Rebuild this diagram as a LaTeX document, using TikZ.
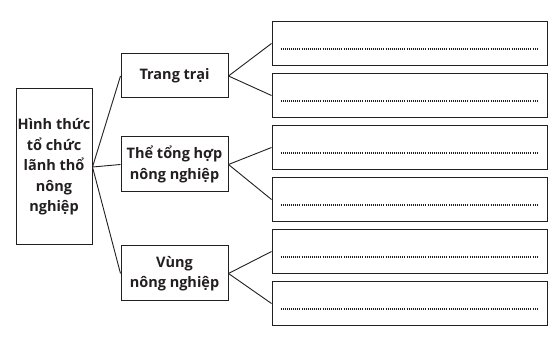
\documentclass[tikz,border=0pt]{standalone}
\usepackage{fontspec}
\setmainfont{Open Sans}
\usetikzlibrary{positioning}
\definecolor{ink}{RGB}{35,31,32}
\tikzset{
  box/.style={draw=ink,line width=1pt,fill=white,align=center,inner sep=1pt,
    font=\fontsize{14.5}{20.5}\selectfont\bfseries,text=ink},
  rootbox/.style={box,minimum width=76pt,minimum height=156pt},
  midbox/.style={box,minimum width=107pt,minimum height=#1},
  midbox/.default=44pt,
  ansbox/.style={box,minimum width=275pt,minimum height=44pt},
  link/.style={draw=ink,line width=0.9pt},
  fillin/.style={ink,line width=1.1pt,dash pattern=on 1pt off 1.1pt},
}

\begin{document}
\begin{tikzpicture}[x=1pt,y=1pt]
    \useasboundingbox[fill=white] (0,0) rectangle (559,339);
    % left column
    \node[rootbox] (root) at (54,172) {Hình thức\\tổ chức\\lãnh thổ\\nông\\nghiệp};
    % middle column
    \node[midbox] (m1) at (174.5,263) {Trang trại};
    \node[midbox=55pt] (m2) at (174.5,174.5) {Thể tổng hợp\\nông nghiệp};
    \node[midbox=55pt] (m3) at (174.5,65.5) {Vùng\\nông nghiệp};
    % answer boxes
    \foreach \i in {1,...,6}
    {
      \pgfmathsetmacro{\y}{295.5-52*(\i-1)}
      \node[ansbox] (r\i) at (409.5,\y) {};
      \draw[fillin] ([xshift=9pt,yshift=-5.5pt]r\i.west) -- ([xshift=-10pt,yshift=-5.5pt]r\i.east);
    }
    \foreach \m in {1,2,3}
      \draw[link] (root.east) -- (m\m.west);
    \foreach \m/\a/\b in {1/1/2,2/3/4,3/5/6}
    {
      \draw[link] (m\m.east) -- (r\a.west);
      \draw[link] (m\m.east) -- (r\b.west);
    }
  \end{tikzpicture}
\end{document}
